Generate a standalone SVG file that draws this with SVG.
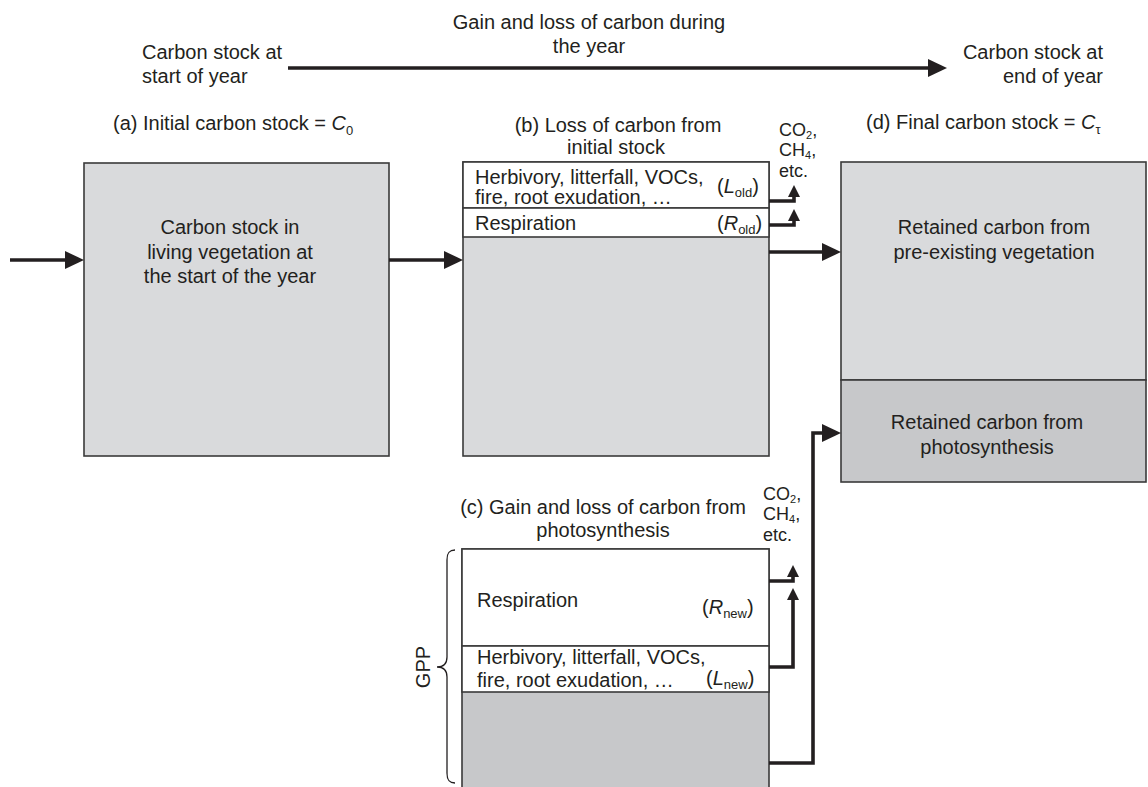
<svg xmlns="http://www.w3.org/2000/svg" width="1148" height="787" viewBox="0 0 1148 787">
<defs>
<style>
text{font-family:"Liberation Sans",Arial,Helvetica,sans-serif;font-size:20px;fill:#231f20}
.mid{text-anchor:middle}
.end{text-anchor:end}
.sm{font-size:18px}
.sub{font-size:13px}
.sub2{font-size:11px}
.it{font-style:italic}
.box{stroke:#3a3a3a;stroke-width:1.6}
.lg{fill:#d9dadc}
.dg{fill:#c7c8ca}
.wh{fill:#ffffff}
.ln{fill:none;stroke:#231f20;stroke-width:3.6;stroke-linejoin:miter}
.hd{fill:#231f20}
</style>
</defs>
<rect width="1148" height="787" fill="#ffffff"/>

<g id="header">
<text x="589" y="29" class="mid">Gain and loss of carbon during</text>
<text x="589" y="53" class="mid">the year</text>
<text x="142" y="59">Carbon stock at</text>
<text x="142" y="83">start of year</text>
<text x="1103" y="59" class="end">Carbon stock at</text>
<text x="1103" y="83" class="end">end of year</text>
</g>

<g id="node-a">
<text x="113" y="130">(a) Initial carbon stock = <tspan class="it">C</tspan><tspan class="sub" dy="5">0</tspan></text>
<rect x="84" y="163" width="305" height="293" class="box lg"/>
<text x="230" y="234" class="mid">Carbon stock in</text>
<text x="230" y="259" class="mid">living vegetation at</text>
<text x="230" y="283" class="mid">the start of the year</text>
</g>

<g id="node-b">
<text x="618" y="132" class="mid">(b) Loss of carbon from</text>
<text x="616" y="154" class="mid">initial stock</text>
<rect x="463" y="162" width="306" height="294" class="box lg"/>
<rect x="463" y="162" width="306" height="46" class="box wh"/>
<rect x="463" y="208" width="306" height="29" class="box wh"/>
<text x="475" y="184">Herbivory, litterfall, VOCs,</text>
<text x="475" y="204">fire, root exudation, …</text>
<text x="717" y="193">(<tspan class="it">L</tspan><tspan class="sub" dy="4">old</tspan><tspan dy="-4">)</tspan></text>
<text x="475" y="230">Respiration</text>
<text x="717" y="230">(<tspan class="it">R</tspan><tspan class="sub" dy="4">old</tspan><tspan dy="-4">)</tspan></text>
<text x="779" y="136" class="sm">CO<tspan class="sub2" dy="3">2</tspan><tspan dy="-3">,</tspan></text>
<text x="779" y="156" class="sm">CH<tspan class="sub2" dy="3">4</tspan><tspan dy="-3">,</tspan></text>
<text x="779" y="177" class="sm">etc.</text>
</g>

<g id="node-c">
<text x="603" y="514" class="mid">(c) Gain and loss of carbon from</text>
<text x="603" y="537" class="mid">photosynthesis</text>
<rect x="462" y="549" width="307" height="245" class="box dg"/>
<rect x="462" y="549" width="307" height="97" class="box wh"/>
<rect x="462" y="646" width="307" height="46" class="box wh"/>
<text x="477" y="607">Respiration</text>
<text x="702" y="614">(<tspan class="it">R</tspan><tspan class="sub" dy="4">new</tspan><tspan dy="-4">)</tspan></text>
<text x="477" y="664">Herbivory, litterfall, VOCs,</text>
<text x="477" y="687">fire, root exudation, …</text>
<text x="706" y="685">(<tspan class="it">L</tspan><tspan class="sub" dy="4">new</tspan><tspan dy="-4">)</tspan></text>
<text x="763" y="500" class="sm">CO<tspan class="sub2" dy="3">2</tspan><tspan dy="-3">,</tspan></text>
<text x="763" y="520" class="sm">CH<tspan class="sub2" dy="3">4</tspan><tspan dy="-3">,</tspan></text>
<text x="763" y="541" class="sm">etc.</text>
<path d="M455,550 C449,550 447,553 447,560 L447,657 C447,664 443,667 437,667 C443,667 447,670 447,677 L447,773 C447,780 449,783 455,783" fill="none" stroke="#231f20" stroke-width="1.3"/>
<text x="0" y="0" class="mid" transform="translate(430,667) rotate(-90)">GPP</text>
</g>

<g id="node-d">
<text x="866" y="129">(d) Final carbon stock = <tspan class="it">C</tspan><tspan class="sub" dy="5">τ</tspan></text>
<rect x="841" y="162" width="305" height="218" class="box lg"/>
<rect x="841" y="380" width="305" height="102" class="box dg"/>
<text x="994" y="234" class="mid">Retained carbon from</text>
<text x="994" y="259" class="mid">pre-existing vegetation</text>
<text x="987" y="429" class="mid">Retained carbon from</text>
<text x="987" y="454" class="mid">photosynthesis</text>
</g>

<g id="connectors">
<path class="ln" d="M288,68 H931"/>
<polygon class="hd" points="947,68 928,59 928,77"/>
<path class="ln" d="M10,260 H67"/>
<polygon class="hd" points="84,260 65,251 65,269"/>
<path class="ln" d="M389,260 H446"/>
<polygon class="hd" points="463,260 444,251 444,269"/>
<path class="ln" d="M769,252 H824"/>
<polygon class="hd" points="841,252 822,243 822,261"/>
<path class="ln" d="M769,201 H794 V195"/>
<polygon class="hd" points="794,185 788,197 800,197"/>
<path class="ln" d="M769,225 H794 V219"/>
<polygon class="hd" points="794,209 788,221 800,221"/>
<path class="ln" d="M769,581 H793 V575"/>
<polygon class="hd" points="793,565 787,577 799,577"/>
<path class="ln" d="M769,667 H793 V598"/>
<polygon class="hd" points="793,588 787,600 799,600"/>
<path class="ln" d="M769,763 H813 V433 H824"/>
<polygon class="hd" points="841,433 822,424 822,442"/>
</g>
</svg>
